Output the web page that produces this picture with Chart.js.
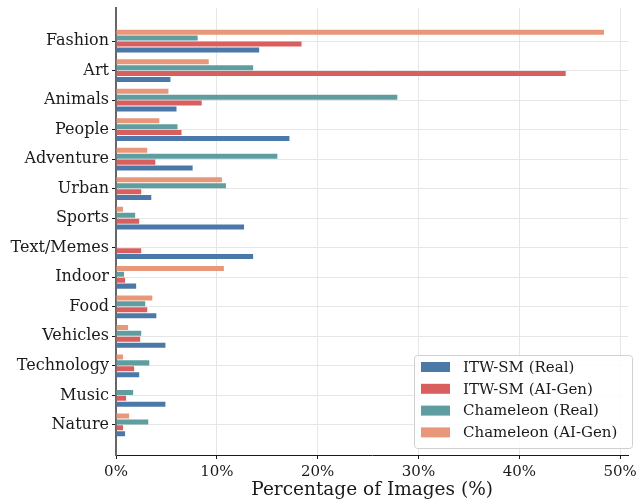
<!DOCTYPE html>
<html>
<head>
<meta charset="utf-8">
<script src="https://cdn.jsdelivr.net/npm/chart.js@4.4.1/dist/chart.umd.min.js"></script>
<style>
  html, body { margin: 0; padding: 0; background: #ffffff; }
  #wrap { width: 641px; height: 501px; position: relative; }
</style>
</head>
<body>
<div id="wrap"><canvas id="chart"></canvas></div>
<script>
// Data (percent of images)
const categories = ['Fashion', 'Art', 'Animals', 'People', 'Adventure', 'Urban', 'Sports',
  'Text/Memes', 'Indoor', 'Food', 'Vehicles', 'Technology', 'Music', 'Nature'];
const itwReal   = [14.2, 5.4, 6.0, 17.2, 7.6, 3.5, 12.7, 13.6, 2.0, 4.0, 4.9, 2.3, 4.9, 0.9];
const itwAiGen  = [18.4, 44.6, 8.5, 6.5, 3.9, 2.5, 2.3, 2.5, 0.9, 3.1, 2.4, 1.8, 1.0, 0.7];
const chamReal  = [8.1, 13.6, 27.9, 6.1, 16.0, 10.9, 1.9, 0.05, 0.8, 2.9, 2.5, 3.3, 1.7, 3.2];
const chamAiGen = [48.4, 9.2, 5.2, 4.3, 3.1, 10.5, 0.7, 0.0, 10.7, 3.6, 1.2, 0.7, 0.05, 1.3];
const xTicks = [0, 10, 20, 30, 40, 50];

const FONT = "'DejaVu Serif', serif";

function points(values) {
  return values.map((v, i) => ({ x: v, y: i }));
}

// dataset 0 sits on top of each group
const datasets = [
  { label: 'Chameleon (AI-Gen)', data: points(chamAiGen), backgroundColor: '#e9977b' },
  { label: 'Chameleon (Real)',   data: points(chamReal),  backgroundColor: '#5f9ea0' },
  { label: 'ITW-SM (AI-Gen)',    data: points(itwAiGen),  backgroundColor: '#d95f5f' },
  { label: 'ITW-SM (Real)',      data: points(itwReal),   backgroundColor: '#4a78a8' }
];

// legend box drawn inside the plot, bottom right
const legendBox = {
  id: 'legendBox',
  afterDraw(chart) {
    const ctx = chart.ctx;
    const x = 414, y = 355, w = 218, h = 93;
    ctx.save();
    ctx.beginPath();
    ctx.roundRect(x + 0.5, y + 0.5, w, h, 3);
    ctx.fillStyle = 'rgba(255,255,255,0.85)';
    ctx.fill();
    ctx.strokeStyle = '#d0d0d0';
    ctx.lineWidth = 1;
    ctx.stroke();
    ctx.font = '15px ' + FONT;
    ctx.textBaseline = 'middle';
    const items = chart.data.datasets.slice().reverse();
    items.forEach((ds, i) => {
      const cy = y + 12 + i * 21.8;
      ctx.fillStyle = ds.backgroundColor;
      ctx.fillRect(x + 7, cy - 5, 29, 10);
      ctx.fillStyle = '#1a1a1a';
      ctx.fillText(ds.label, x + 49, cy + 1);
    });
    ctx.restore();
  }
};

new Chart(document.getElementById('chart'), {
  type: 'bar',
  data: { datasets: datasets },
  plugins: [legendBox],
  options: {
    indexAxis: 'y',
    responsive: true,
    maintainAspectRatio: false,
    animation: false,
    layout: { padding: { top: 8, right: 11, left: 0, bottom: 0 } },
    datasets: {
      bar: { categoryPercentage: 0.8, barPercentage: 0.85, borderWidth: 0 }
    },
    plugins: {
      legend: { display: false },
      tooltip: { enabled: false }
    },
    scales: {
      x: {
        type: 'linear',
        min: 0,
        max: 50.8,
        afterBuildTicks: (scale) => { scale.ticks = xTicks.map(v => ({ value: v })); },
        afterFit: (scale) => { scale.height = 46; },
        ticks: {
          color: '#1a1a1a',
          font: { family: FONT, size: 15 },
          padding: 4,
          maxRotation: 0,
          callback: (v) => v + '%'
        },
        grid: { color: '#e6e6e6', lineWidth: 1, tickColor: '#1a1a1a', tickLength: 4 },
        border: { display: true, color: '#1a1a1a', width: 1 },
        title: {
          display: true,
          text: 'Percentage of Images (%)',
          color: '#1a1a1a',
          font: { family: FONT, size: 18.5 },
          padding: { top: 0, bottom: 0 }
        }
      },
      y: {
        type: 'linear',
        reverse: true,
        offset: false,
        min: -1.12,
        max: 14.02,
        afterBuildTicks: (scale) => { scale.ticks = categories.map((c, i) => ({ value: i })); },
        afterFit: (scale) => {
          scale.width = 116;
          scale.paddingTop = 0;
          scale.paddingBottom = 0;
        },
        ticks: {
          color: '#1a1a1a',
          font: { family: FONT, size: 16 },
          padding: 3,
          autoSkip: false,
          callback: (v) => categories[v]
        },
        grid: { offset: false, color: '#e6e6e6', lineWidth: 1, tickColor: '#1a1a1a', tickLength: 4 },
        border: { display: true, color: '#666666', width: 2 }
      }
    }
  }
});
</script>
</body>
</html>
